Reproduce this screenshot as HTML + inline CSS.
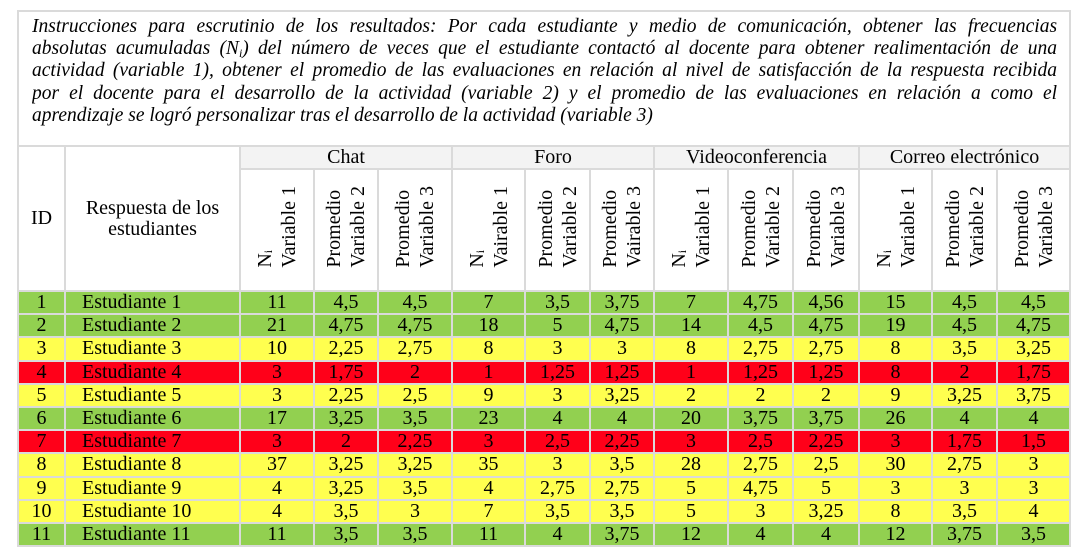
<!DOCTYPE html>
<html><head><meta charset="utf-8"><style>
body{margin:0;background:#fff;width:1088px;height:559px;overflow:hidden;font-family:"Liberation Serif",serif;color:#000}
table{position:absolute;left:17px;top:10px;border-collapse:collapse;table-layout:fixed;width:1054px}
td{border:2px solid #dadada;padding:0;text-align:center;font-size:20px;line-height:19px;overflow:hidden;white-space:nowrap}
.ins{font-style:italic;font-size:19.5px;line-height:22.2px;padding:4px 12px 0 13px;vertical-align:top;white-space:nowrap}
.ins div{text-align:justify;text-align-last:justify;height:22.2px;overflow:hidden}
.ins div.l{text-align-last:left}
.grp{background:#f3f3f3}
.rot{vertical-align:bottom;padding-bottom:18px}
.rot div{writing-mode:vertical-rl;transform:rotate(180deg);display:inline-block;text-align:left;line-height:24px;font-size:20px}
tr.d{height:23.2px}
.G td{background:#92d050}.Y td{background:#ffff4f}.R td{background:#ff0019}
td.n{text-align:left;padding-left:16px}
sub{font-size:12px;line-height:0;vertical-align:-3px}
</style></head><body>
<table>
<colgroup><col style="width:47px"><col style="width:175px"><col style="width:74px"><col style="width:64px"><col style="width:74px"><col style="width:73px"><col style="width:65px"><col style="width:64px"><col style="width:74px"><col style="width:65px"><col style="width:66px"><col style="width:73px"><col style="width:65px"><col style="width:73px"></colgroup>
<tr style="height:135px"><td colspan="14" class="ins">
<div>Instrucciones para escrutinio de los resultados: Por cada estudiante y medio de comunicación, obtener las frecuencias</div>
<div>absolutas acumuladas (N<sub>i</sub>) del número de veces que el estudiante contactó al docente para obtener realimentación de una</div>
<div>actividad (variable 1), obtener el promedio de las evaluaciones en relación al nivel de satisfacción de la respuesta recibida</div>
<div>por el docente para el desarrollo de la actividad (variable 2) y el promedio de las evaluaciones en relación a como el</div>
<div class="l">aprendizaje se logró personalizar tras el desarrollo de la actividad (variable 3)</div>
</td></tr>
<tr style="height:23px"><td rowspan="2">ID</td><td rowspan="2" style="white-space:normal;line-height:21px">Respuesta de los<br>estudiantes</td><td colspan="3" class="grp">Chat</td><td colspan="3" class="grp">Foro</td><td colspan="3" class="grp">Videoconferencia</td><td colspan="3" class="grp">Correo electrónico</td></tr>
<tr style="height:122px">
<td class="rot"><div>N<sub>i</sub><br>Variable 1</div></td><td class="rot"><div>Promedio<br>Variable 2</div></td><td class="rot"><div>Promedio<br>Variable 3</div></td>
<td class="rot"><div>N<sub>i</sub><br>Vairable 1</div></td><td class="rot"><div>Promedio<br>Variable 2</div></td><td class="rot"><div>Promedio<br>Vairable 3</div></td>
<td class="rot"><div>N<sub>i</sub><br>Variable 1</div></td><td class="rot"><div>Promedio<br>Variable 2</div></td><td class="rot"><div>Promedio<br>Variable 3</div></td>
<td class="rot"><div>N<sub>i</sub><br>Variable 1</div></td><td class="rot"><div>Promedio<br>Variable 2</div></td><td class="rot"><div>Promedio<br>Variable 3</div></td>
</tr>
<tr class="d G"><td>1</td><td class="n">Estudiante 1</td><td>11</td><td>4,5</td><td>4,5</td><td>7</td><td>3,5</td><td>3,75</td><td>7</td><td>4,75</td><td>4,56</td><td>15</td><td>4,5</td><td>4,5</td></tr>
<tr class="d G"><td>2</td><td class="n">Estudiante 2</td><td>21</td><td>4,75</td><td>4,75</td><td>18</td><td>5</td><td>4,75</td><td>14</td><td>4,5</td><td>4,75</td><td>19</td><td>4,5</td><td>4,75</td></tr>
<tr class="d Y"><td>3</td><td class="n">Estudiante 3</td><td>10</td><td>2,25</td><td>2,75</td><td>8</td><td>3</td><td>3</td><td>8</td><td>2,75</td><td>2,75</td><td>8</td><td>3,5</td><td>3,25</td></tr>
<tr class="d R"><td>4</td><td class="n">Estudiante 4</td><td>3</td><td>1,75</td><td>2</td><td>1</td><td>1,25</td><td>1,25</td><td>1</td><td>1,25</td><td>1,25</td><td>8</td><td>2</td><td>1,75</td></tr>
<tr class="d Y"><td>5</td><td class="n">Estudiante 5</td><td>3</td><td>2,25</td><td>2,5</td><td>9</td><td>3</td><td>3,25</td><td>2</td><td>2</td><td>2</td><td>9</td><td>3,25</td><td>3,75</td></tr>
<tr class="d G"><td>6</td><td class="n">Estudiante 6</td><td>17</td><td>3,25</td><td>3,5</td><td>23</td><td>4</td><td>4</td><td>20</td><td>3,75</td><td>3,75</td><td>26</td><td>4</td><td>4</td></tr>
<tr class="d R"><td>7</td><td class="n">Estudiante 7</td><td>3</td><td>2</td><td>2,25</td><td>3</td><td>2,5</td><td>2,25</td><td>3</td><td>2,5</td><td>2,25</td><td>3</td><td>1,75</td><td>1,5</td></tr>
<tr class="d Y"><td>8</td><td class="n">Estudiante 8</td><td>37</td><td>3,25</td><td>3,25</td><td>35</td><td>3</td><td>3,5</td><td>28</td><td>2,75</td><td>2,5</td><td>30</td><td>2,75</td><td>3</td></tr>
<tr class="d Y"><td>9</td><td class="n">Estudiante 9</td><td>4</td><td>3,25</td><td>3,5</td><td>4</td><td>2,75</td><td>2,75</td><td>5</td><td>4,75</td><td>5</td><td>3</td><td>3</td><td>3</td></tr>
<tr class="d Y"><td>10</td><td class="n">Estudiante 10</td><td>4</td><td>3,5</td><td>3</td><td>7</td><td>3,5</td><td>3,5</td><td>5</td><td>3</td><td>3,25</td><td>8</td><td>3,5</td><td>4</td></tr>
<tr class="d G"><td>11</td><td class="n">Estudiante 11</td><td>11</td><td>3,5</td><td>3,5</td><td>11</td><td>4</td><td>3,75</td><td>12</td><td>4</td><td>4</td><td>12</td><td>3,75</td><td>3,5</td></tr>
</table>
</body></html>
